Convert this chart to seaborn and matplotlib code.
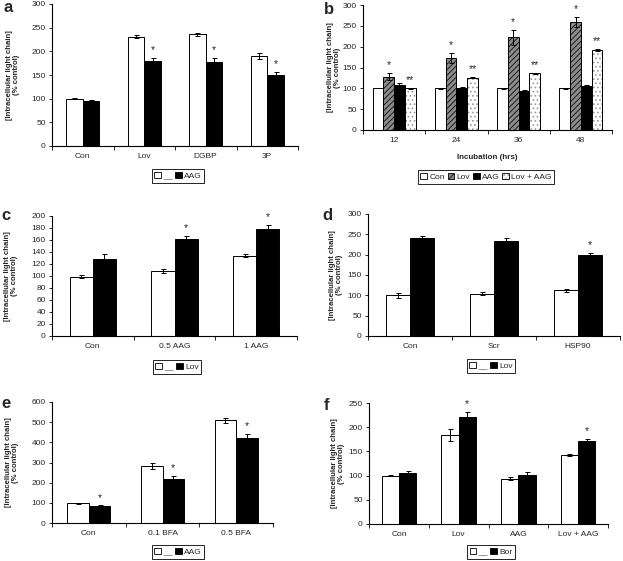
import matplotlib
matplotlib.use("Agg")
import numpy as np
import pandas as pd
import matplotlib.pyplot as plt
import seaborn as sns
from matplotlib.patches import Patch

# ---- data ----
# a
a_groups = ["Con", "Lov", "DGBP", "3P"]
a_ctrl = [100, 231, 236, 190]
a_ctrl_err = [1, 3, 3, 6]
a_aag = [95, 179, 178, 151]
a_aag_err = [3, 7, 8, 5]
a_aag_star = ["", "*", "*", "*"]

# b
b_groups = ["12", "24", "36", "48"]
b_con = [100, 100, 100, 100]
b_con_err = [0, 2, 2, 2]
b_lov = [128, 172, 223, 260]
b_lov_err = [8, 12, 18, 12]
b_aag = [107, 100, 94, 105]
b_aag_err = [7, 4, 2, 3]
b_lovaag = [100, 126, 136, 192]
b_lovaag_err = [1, 2, 2, 2]
b_lov_star = ["*", "*", "*", "*"]
b_lovaag_star = ["**", "**", "**", "**"]

# c
c_groups = ["Con", "0.5 AAG", "1 AAG"]
c_ctrl = [99, 108, 134]
c_ctrl_err = [3, 3, 3]
c_lov = [129, 161, 178]
c_lov_err = [8, 6, 7]
c_lov_star = ["", "*", "*"]

# d
d_groups = ["Con", "Scr", "HSP90"]
d_ctrl = [100, 104, 112]
d_ctrl_err = [6, 4, 4]
d_lov = [241, 234, 199]
d_lov_err = [6, 6, 6]
d_lov_star = ["", "", "*"]

# e
e_groups = ["Con", "0.1 BFA", "0.5 BFA"]
e_ctrl = [98, 285, 510]
e_ctrl_err = [3, 15, 12]
e_aag = [83, 220, 423]
e_aag_err = [4, 14, 18]
e_aag_star = ["*", "*", "*"]

# f
f_groups = ["Con", "Lov", "AAG", "Lov + AAG"]
f_ctrl = [100, 184, 94, 143]
f_ctrl_err = [1, 12, 4, 2]
f_bor = [105, 221, 102, 171]
f_bor_err = [5, 10, 6, 5]
f_bor_star = ["", "*", "", "*"]

YLABEL = "[Intracellular light chain]\n(% control)"

sns.set_theme(style="ticks")
plt.rcParams["font.family"] = ["Liberation Sans", "DejaVu Sans"]
plt.rcParams["hatch.linewidth"] = 0.7

W, H = 623, 561
fig = plt.figure(figsize=(W / 100, H / 100), dpi=100)

# hatch colours (bar outline stays black)
HATCH_COLOR = {"//////": (0.1, 0.1, 0.1, 1), "....": (0.6, 0.6, 0.6, 1)}


def px_axes(l, t, r, b):
    return fig.add_axes([l / W, 1 - b / H, (r - l) / W, (b - t) / H])


def draw_panel(ax, groups, series, width, ymax, ystep, legend_xy, ylab_x, letter, letter_xy):
    # series: list of (name, values, errs, stars, facecolor, hatch)
    rows = []
    for name, vals, errs, stars, fc, hatch in series:
        for g, v in zip(groups, vals):
            rows.append({"group": g, "series": name, "value": v})
    df = pd.DataFrame(rows)
    pal = {s[0]: s[4] for s in series}
    sns.barplot(data=df, x="group", y="value", hue="series", hue_order=[s[0] for s in series],
                order=groups, palette=pal, width=width, saturation=1, errorbar=None,
                edgecolor="black", linewidth=0.7, legend=False, ax=ax)
    for cont, (name, vals, errs, stars, fc, hatch) in zip(ax.containers, series):
        for bar, e, st in zip(cont, errs, stars):
            if hatch:
                bar.set_hatch(hatch)
                bar._hatch_color = HATCH_COLOR[hatch]
            x = bar.get_x() + bar.get_width() / 2
            y = bar.get_height()
            if e > 0:
                ax.errorbar(x, y, yerr=e, fmt="none", ecolor="black", elinewidth=0.7,
                            capsize=1.8, capthick=0.7)
            if st:
                ax.annotate(st, (x, y + e), xytext=(0, 2), textcoords="offset points",
                            ha="center", va="bottom", fontsize=7.5)
    n = len(groups)
    ax.set_xlim(-0.5, n - 0.5)
    ax.set_ylim(0, ymax)
    ax.set_yticks(np.arange(0, ymax + 1, ystep))
    ax.set_xticks(range(n))
    ax.set_xticks(np.arange(-0.5, n, 1.0), minor=True)
    ax.tick_params(axis="x", which="major", length=0, pad=5, labelsize=6)
    ax.tick_params(axis="x", which="minor", length=3, width=0.7, direction="out")
    ax.tick_params(axis="y", length=2.5, width=0.7, pad=2, labelsize=6, direction="out")
    ax.set_xlabel("")
    ax.set_ylabel("")
    for s in ["top", "right"]:
        ax.spines[s].set_visible(False)
    for s in ["left", "bottom"]:
        ax.spines[s].set_linewidth(0.8)
        ax.spines[s].set_color("black")
    handles = []
    for s in series:
        p = Patch(facecolor=s[4], edgecolor="black", linewidth=0.6, hatch=s[5], label=s[0])
        if s[5]:
            p._hatch_color = HATCH_COLOR[s[5]]
        handles.append(p)
    ax.legend(handles=handles, loc="center", bbox_to_anchor=(legend_xy[0] / W, 1 - legend_xy[1] / H),
              bbox_transform=fig.transFigure, ncol=len(series), fontsize=6, frameon=True,
              fancybox=False, edgecolor="black", framealpha=1, handlelength=0.8,
              handleheight=0.8, handletextpad=0.25, columnspacing=0.35, borderpad=0.3,
              borderaxespad=0)
    ax.get_legend().get_frame().set_linewidth(0.6)
    bb = ax.get_position()
    fig.text(ylab_x / W, bb.y0 + bb.height / 2, YLABEL, rotation=90, ha="center", va="center",
             fontsize=5.6, fontweight="bold", linespacing=1.1)
    fig.text(letter_xy[0] / W, 1 - letter_xy[1] / H, letter, ha="center", va="center",
             fontsize=12, fontweight="bold")


ax_a = px_axes(52, 4, 298, 146)
draw_panel(ax_a, a_groups,
           [("__", a_ctrl, a_ctrl_err, [""] * 4, "white", None),
            ("AAG", a_aag, a_aag_err, a_aag_star, "black", None)],
           0.54, 300, 50, (178, 176), 13, "a", (8, 8))

ax_b = px_axes(363, 5, 612, 130)
draw_panel(ax_b, b_groups,
           [("Con", b_con, b_con_err, [""] * 4, "white", None),
            ("Lov", b_lov, b_lov_err, b_lov_star, "#8c8c8c", "//////"),
            ("AAG", b_aag, b_aag_err, [""] * 4, "black", None),
            ("Lov + AAG", b_lovaag, b_lovaag_err, b_lovaag_star, "white", "....")],
           0.69, 300, 50, (486, 177), 334, "b", (329, 10))
ax_b.set_xlabel("Incubation (hrs)", fontsize=5.8, fontweight="bold", labelpad=7)

ax_c = px_axes(52, 216, 297, 336)
draw_panel(ax_c, c_groups,
           [("__", c_ctrl, c_ctrl_err, [""] * 3, "white", None),
            ("Lov", c_lov, c_lov_err, c_lov_star, "black", None)],
           0.57, 200, 20, (177, 367), 11, "c", (6, 215))

ax_d = px_axes(368, 214, 620, 336)
draw_panel(ax_d, d_groups,
           [("__", d_ctrl, d_ctrl_err, [""] * 3, "white", None),
            ("Lov", d_lov, d_lov_err, d_lov_star, "black", None)],
           0.57, 300, 50, (491, 366), 336, "d", (327, 216))

ax_e = px_axes(52, 402, 273, 523)
draw_panel(ax_e, e_groups,
           [("__", e_ctrl, e_ctrl_err, [""] * 3, "white", None),
            ("AAG", e_aag, e_aag_err, e_aag_star, "black", None)],
           0.58, 600, 100, (178, 552), 12, "e", (6, 404))

ax_f = px_axes(369, 403, 608, 524)
draw_panel(ax_f, f_groups,
           [("__", f_ctrl, f_ctrl_err, [""] * 4, "white", None),
            ("Bor", f_bor, f_bor_err, f_bor_star, "black", None)],
           0.58, 250, 50, (491, 552), 338, "f", (327, 406))

fig.savefig("out.png", dpi=100)
